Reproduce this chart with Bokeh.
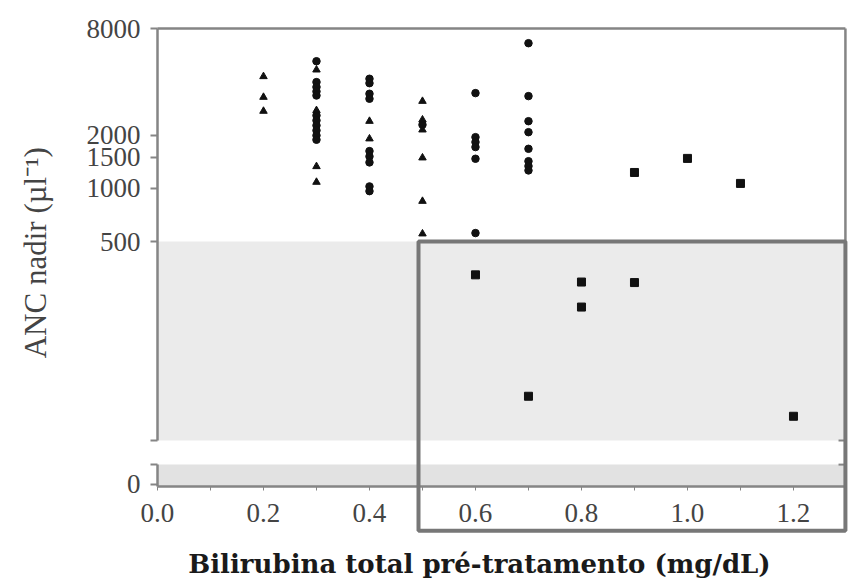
import math
from bokeh.plotting import figure
from bokeh.models import (Range1d, FixedTicker, BoxAnnotation, LogAxis, Label,
                          PrintfTickFormatter)
from bokeh.embed import file_html
from bokeh.resources import INLINE

# ---- data ----
tri_x = [0.2, 0.2, 0.2, 0.3, 0.3, 0.3, 0.3, 0.4, 0.4, 0.5, 0.5, 0.5, 0.5, 0.5, 0.5]
tri_y = [4285, 3273, 2729, 4672, 2754, 1328, 1083, 2394, 1905, 3105, 2438, 2140, 1487, 845, 553]

circ_x = [0.3] * 11 + [0.4] * 9 + [0.5] + [0.6] * 6 + [0.7] * 8
circ_y = [5225, 3981, 3733, 3525, 3344, 2579, 2417, 2265, 2122, 1988, 1880,
          4159, 3926, 3421, 3206, 1622, 1513, 1400, 1024, 963,
          2285,
          3450, 1945, 1823, 1709, 1468, 558,
          6607, 3318, 2394, 2075, 1671, 1422, 1334, 1261]

sq_x = [0.6, 0.7, 0.8, 0.8, 0.9, 0.9, 1.0, 1.1, 1.2]
sq_y = [324, 66.7, 295, 213, 1228, 293, 1475, 1065, 51.4]

x_ticks = [0.0, 0.2, 0.4, 0.6, 0.8, 1.0, 1.2]
x_minor = [0.1, 0.3, 0.5, 0.7, 0.9, 1.1]
y_ticks = [500, 1000, 1500, 2000, 8000]
y_tick_labels = ["500", "1000", "1500", "2000", "8000"]
zero_label = "0"

x_title = "Bilirubina total pré-tratamento (mg/dL)"
y_title = "ANC nadir (µl⁻¹)"

# ---- layout of the broken axis (data coordinates) ----
x_start, x_end = -0.2962, 1.3057     # visible x extent of the canvas
y_start, y_end = 5.68, 11518         # visible y extent of the canvas (log)
x_max = 1.298                        # right edge of the plot box
y_lo, y_hi = 20.6, 8000              # x-axis position / top of the plot box
zero_pos = 21.2                      # the "0" of the broken axis
cut_top = 37.5                       # bottom of the upper shaded region
cut_low = 27.4                       # top of the lower shaded band
shade_top = 500
box_left, box_bottom = 0.4925, 11.6  # highlight rectangle
x_title_pos = (0.6075, 7.5)
y_title_pos = (-0.230, 432)

axis_grey = "#858585"
serif = "Liberation Serif"

p = figure(width=849, height=585, x_range=Range1d(x_start, x_end),
           y_range=Range1d(y_start, y_end), y_axis_type="log",
           output_backend="svg", toolbar_location=None,
           min_border=0)
p.grid.visible = False
p.outline_line_color = None
p.background_fill_color = "white"
p.border_fill_color = "white"

# shaded regions
p.add_layout(BoxAnnotation(left=0, right=x_max, bottom=cut_top, top=shade_top,
                           fill_color="#ebebeb", fill_alpha=1, line_color=None,
                           level="underlay"))
p.add_layout(BoxAnnotation(left=0, right=x_max, bottom=y_lo, top=cut_low,
                           fill_color="#e2e2e2", fill_alpha=1, line_color=None,
                           level="underlay"))

# markers
p.scatter(circ_x, circ_y, marker="circle", size=7.5, color="#111111")
p.scatter(tri_x, tri_y, marker="triangle", size=7.5, color="#111111")
p.scatter(sq_x, sq_y, marker="square", size=8, color="#111111")

# plot box: top and right edges
p.segment(x0=[0, x_max], y0=[y_hi, y_hi], x1=[x_max, x_max], y1=[y_hi, y_lo],
          line_color=axis_grey, line_width=2.5)
# break marks on the right edge
p.segment(x0=[x_max - 0.013] * 2, x1=[x_max] * 2, y0=[cut_top, cut_low],
          y1=[cut_top, cut_low], line_color=axis_grey, line_width=2)

# highlight rectangle
p.add_layout(BoxAnnotation(left=box_left, right=x_max, top=shade_top, bottom=box_bottom,
                           fill_alpha=0, line_color="#777777", line_alpha=1,
                           line_width=4, level="overlay"))

# x axis
xa = p.xaxis[0]
xa.fixed_location = y_lo
xa.bounds = (0, x_max)
xa.ticker = FixedTicker(ticks=x_ticks, minor_ticks=x_minor)
xa.formatter = PrintfTickFormatter(format="%.1f")
xa.axis_line_color = axis_grey
xa.axis_line_width = 2.5
xa.major_tick_line_color = axis_grey
xa.minor_tick_line_color = axis_grey
xa.major_tick_in = 0
xa.major_tick_out = 4
xa.minor_tick_in = 0
xa.minor_tick_out = 4
xa.major_label_standoff = 13
xa.major_label_text_font = serif
xa.major_label_text_font_size = "27px"
xa.major_label_text_color = "#444444"


def style_y(ax):
    ax.fixed_location = 0
    ax.axis_line_color = axis_grey
    ax.axis_line_width = 2.5
    ax.major_tick_line_color = axis_grey
    ax.major_tick_line_width = 2
    ax.major_tick_in = 0
    ax.major_tick_out = 7
    ax.minor_tick_line_color = None
    ax.major_label_standoff = 10
    ax.major_label_text_font = serif
    ax.major_label_text_font_size = "27px"
    ax.major_label_text_color = "#444444"


# upper part of the y axis
ya = p.yaxis[0]
style_y(ya)
ya.bounds = (cut_top, y_hi)
ya.ticker = FixedTicker(ticks=[cut_top] + y_ticks, minor_ticks=[])
ov = {cut_top: ""}
for t, lab in zip(y_ticks, y_tick_labels):
    ov[t] = lab
ya.major_label_overrides = ov

# lower part of the y axis (below the break)
yb = LogAxis()
style_y(yb)
yb.bounds = (y_lo, cut_low)
yb.ticker = FixedTicker(ticks=[zero_pos, cut_low], minor_ticks=[])
yb.major_label_overrides = {zero_pos: zero_label, cut_low: ""}
p.add_layout(yb, "left")

# axis titles
p.add_layout(Label(x=x_title_pos[0], y=x_title_pos[1], text=x_title,
                   text_align="center", text_baseline="middle",
                   text_font="DejaVu Serif", text_font_style="bold",
                   text_font_size="26px", text_color="#1a1a1a"))
p.add_layout(Label(x=y_title_pos[0], y=y_title_pos[1], text=y_title,
                   angle=math.pi / 2, text_align="center", text_baseline="middle",
                   text_font=serif, text_font_size="31px", text_color="#444444"))

open("out.html", "w").write(file_html(p, INLINE))
